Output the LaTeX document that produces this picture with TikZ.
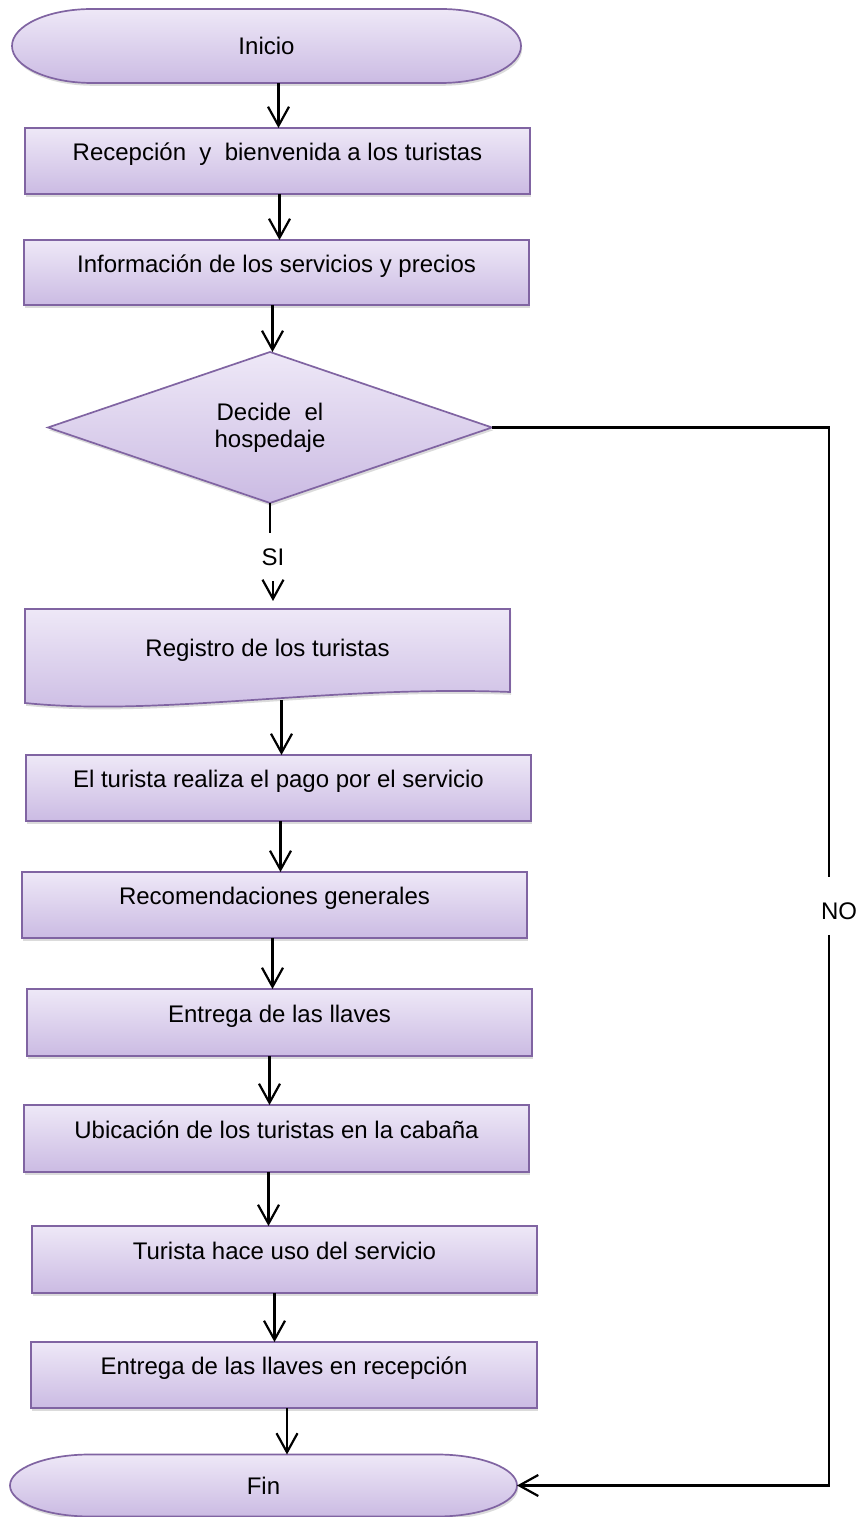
\documentclass[tikz,border=0pt]{standalone}
\usepackage{fontspec}
\setmainfont{Liberation Sans}
\usetikzlibrary{arrows.meta, backgrounds, calc, shapes.geometric, shadows}
\definecolor{shapetop}{HTML}{EEE8F7}
\definecolor{shapebot}{HTML}{CBBBE3}
\definecolor{shapeborder}{HTML}{8064A2}
\definecolor{darkline}{HTML}{000000}
\tikzset{
  shapefill/.style={top color=shapetop, bottom color=shapebot, draw=shapeborder,
                    line width=0.85pt,
                    drop shadow={shadow xshift=0.6pt, shadow yshift=-1.4pt, opacity=0.28}},
  card/.style={rectangle, align=center, font=\fontsize{12}{13.5}\selectfont,
               inner sep=0pt, outer sep=0pt},
  proc/.style={card, shapefill, minimum width=252.5pt, minimum height=33pt,
               text height=9pt, text depth=9pt},
  decision/.style={card, diamond, aspect=3, shapefill, minimum width=222pt, minimum height=75.5pt},
  term/.style={card, minimum width=254.5pt, minimum height=37pt},
  doc/.style={card, minimum width=242.5pt, minimum height=41.5pt},
  tag/.style={font=\fontsize{12}{13.5}\selectfont, inner sep=0pt},
  flow/.style={-{Straight Barb[length=9.5pt, width=10.5pt]}, line width=1.1pt, draw=darkline},
  link/.style={line width=1.1pt, draw=darkline},
}
\def\termrx{40pt}

\begin{document}
\begin{tikzpicture}[x=0.5pt, y=0.5pt]
\useasboundingbox (0,0) rectangle (859,1517);

% Start and end (text only, outline drawn below)
\node[term] (inicio) at (266.5,1471) {Inicio};
\node[term, minimum width=253.5pt, minimum height=31pt] (fin) at (263.5,31.5) {Fin};

% Steps
\node[proc] (recep) at (277.5,1356) {Recepción~ y~ bienvenida a los turistas};
\node[proc, minimum height=32.5pt] (info) at (276.5,1244.5) {Información de los servicios y precios};
\node[decision] (dec) at (270,1089.5) {Decide~ el\\hospedaje};
\node[tag, minimum height=24pt] (si) at (273,960) {SI};
\node[doc] (reg) at (267.5,866.5) {Registro de los turistas};
\node[proc] (pago) at (278.5,729) {El turista realiza el pago por el servicio};
\node[proc] (recom) at (274.5,612) {Recomendaciones generales};
\node[proc, minimum height=33.5pt] (llaves) at (279.5,494.5) {Entrega de las llaves};
\node[proc, minimum height=33.5pt] (ubic) at (276.5,378.5) {Ubicación de los turistas en la cabaña};
\node[proc, minimum height=33.5pt] (uso) at (284.5,257.5) {Turista hace uso del servicio};
\node[proc, minimum width=253pt] (devol) at (284,142) {Entrega de las llaves en recepción};

% NO branch
\node[tag] (no) at (839,606) {NO};
\coordinate (notop) at (829,640);
\coordinate (nobot) at (829,582);

% Outlines of start, end and document shape
\begin{scope}[on background layer]
  \fill[white] (0,0) rectangle (859,1517);
  \shade[shapefill] ([xshift=\termrx]inicio.north west) -- ([xshift=-\termrx]inicio.north east)
    arc[start angle=90, end angle=-90, x radius=\termrx, y radius=18.5pt]
    -- ([xshift=\termrx]inicio.south west)
    arc[start angle=270, end angle=90, x radius=\termrx, y radius=18.5pt] -- cycle;
  \shade[shapefill] ([xshift=\termrx]fin.north west) -- ([xshift=-\termrx]fin.north east)
    arc[start angle=90, end angle=-90, x radius=\termrx, y radius=15.5pt]
    -- ([xshift=\termrx]fin.south west)
    arc[start angle=270, end angle=90, x radius=\termrx, y radius=15.5pt] -- cycle;
  \shade[shapefill] (reg.north west) -- (reg.north east) -- (reg.south east)
    .. controls ($(reg.south east)+(-90pt,3.5pt)$) and ($(reg.south west)+(67.5pt,-12.5pt)$)
    .. ($(reg.south west)+(0,-5.5pt)$) -- cycle;
\end{scope}

% Flow
\draw[flow] ([xshift=6pt]inicio.south) -- ([xshift=6pt]inicio.south |- recep.north);
\draw[flow] ([xshift=1pt]recep.south) -- ([xshift=1pt]recep.south |- info.north);
\draw[flow] ([xshift=-2pt]info.south) -- ([xshift=-2pt]info.south |- dec.north);
\draw[link] (dec.south) -- (dec.south |- si.north);
\draw[flow, shorten >=4pt] (si.south) -- (si.south |- reg.north);
\draw[flow] ([xshift=7pt,yshift=-4pt]reg.south) -- ([xshift=7pt]reg.south |- pago.north);
\draw[flow] ([xshift=1pt]pago.south) -- ([xshift=1pt]pago.south |- recom.north);
\draw[flow] ([xshift=-1pt]recom.south) -- ([xshift=-1pt]recom.south |- llaves.north);
\draw[flow] ([xshift=-5pt]llaves.south) -- ([xshift=-5pt]llaves.south |- ubic.north);
\draw[flow] ([xshift=-4pt]ubic.south) -- ([xshift=-4pt]ubic.south |- uso.north);
\draw[flow] ([xshift=-5pt]uso.south) -- ([xshift=-5pt]uso.south |- devol.north);
\draw[flow] ([xshift=1.5pt]devol.south) -- ([xshift=1.5pt]devol.south |- fin.north);

% Rejection path
\draw[link] (dec.east) -| (notop);
\draw[flow] (nobot) |- (fin.east);

\end{tikzpicture}
\end{document}
